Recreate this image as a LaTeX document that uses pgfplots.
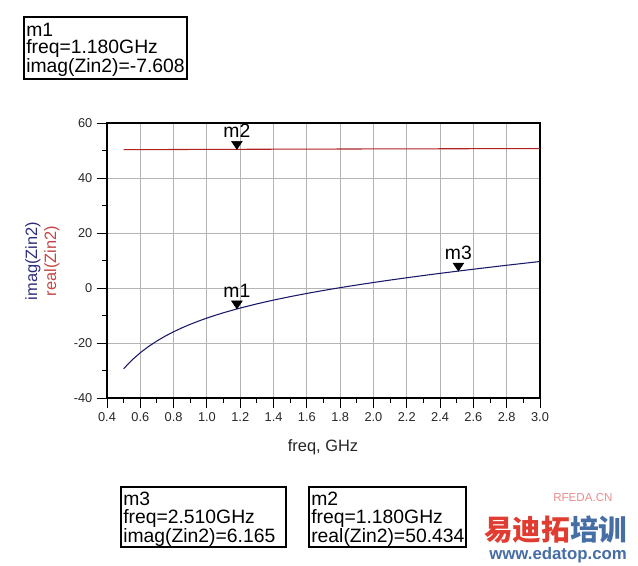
\documentclass[border=0pt]{standalone}
\usepackage{fontspec}
\setmainfont{Liberation Sans}
\newfontfamily\cjk{Noto Sans CJK SC}
\usepackage{pgfplots}
\pgfplotsset{compat=1.18}
\definecolor{imagc}{RGB}{25,25,105}
\definecolor{realc}{RGB}{175,35,35}
\definecolor{imaglab}{RGB}{45,45,125}
\definecolor{reallab}{RGB}{195,70,70}
\definecolor{gridc}{RGB}{180,180,180}
\definecolor{wmred}{RGB}{225,60,50}
\definecolor{wmblue}{RGB}{70,110,165}
\definecolor{wmpink}{RGB}{235,140,140}
\pgfdeclareplotmark{dtri}{\pgfpathmoveto{\pgfpointorigin}\pgfpathlineto{\pgfpoint{-4pt}{6pt}}\pgfpathlineto{\pgfpoint{4pt}{6pt}}\pgfpathclose\pgfusepathqfillstroke}
\newcommand\boxfont{\fontsize{14.5}{13.1}\selectfont}
\newcommand\labfont{\fontsize{12.3}{14}\selectfont}
\begin{document}
\begin{tikzpicture}
\useasboundingbox (0,0) rectangle (478.5pt,-423.75pt);
\begin{axis}[
  at={(80.25pt,-298.5pt)}, anchor=south west,
  scale only axis, width=324.75pt, height=206.25pt,
  xmin=0.4, xmax=3.0, ymin=-40, ymax=60,
  xtick={0.4,0.6,0.8,1.0,1.2,1.4,1.6,1.8,2.0,2.2,2.4,2.6,2.8,3.0},
  ytick={-40,-20,0,20,40,60},
  minor x tick num=1, minor y tick num=1,
  tick align=outside, xtick pos=bottom, ytick pos=left,
  major tick length=7.5pt, minor tick length=3.8pt,
  grid=major,
  grid style={gridc, line width=0.75pt},
  major grid style={gridc, line width=0.75pt},
  axis line style={black, line width=0.8pt},
  every tick/.style={black, line width=0.7pt},
  /pgf/number format/assume math mode=true,
  tick label style={font=\fontsize{9.6}{11}\selectfont, text=black!85},
  xticklabel style={/pgf/number format/.cd, fixed, fixed zerofill, precision=1},
  yticklabel style={/pgf/number format/.cd, fixed, precision=0},
]
\addplot[realc, line width=0.8pt] coordinates {
(0.5,50.30) (0.8,50.36) (1.0,50.40) (1.18,50.434) (1.4,50.47) (1.6,50.50)
(1.75,50.53) (2.0,50.57) (2.2,50.60) (2.5,50.64) (2.8,50.68) (3.0,50.70)};
\addplot[imagc, line width=0.8pt] coordinates {
(0.50,-29.337) (0.55,-26.195) (0.60,-23.534) (0.65,-21.245) (0.70,-19.247)
(0.75,-17.482) (0.80,-15.907) (0.85,-14.487) (0.90,-13.198) (0.95,-12.019)
(1.00,-10.932) (1.05,-9.925) (1.10,-8.987) (1.18,-7.608) (1.20,-7.284)
(1.30,-5.765) (1.40,-4.392) (1.50,-3.136) (1.60,-1.975) (1.70,-0.892)
(1.80,0.127) (1.90,1.090) (2.00,2.007) (2.10,2.884) (2.20,3.726)
(2.30,4.540) (2.40,5.326) (2.50,6.089) (2.51,6.165) (2.60,6.832)
(2.70,7.557) (2.80,8.266) (2.90,8.960) (3.00,9.641)};
\addplot[only marks, mark=dtri, black, nodes near coords={m2},
  every node near coord/.style={anchor=base, yshift=8.5pt, inner sep=0pt, font=\boxfont, text=black}]
  coordinates {(1.18,50.434)};
\addplot[only marks, mark=dtri, black, nodes near coords={m1},
  every node near coord/.style={anchor=base, yshift=8.5pt, inner sep=0pt, font=\boxfont, text=black}]
  coordinates {(1.18,-7.608)};
\addplot[only marks, mark=dtri, black, nodes near coords={m3},
  every node near coord/.style={anchor=base, yshift=8.5pt, inner sep=0pt, font=\boxfont, text=black}]
  coordinates {(2.51,6.165)};
\end{axis}
\begin{scope}[x=0.75pt,y=-0.75pt]
% axis labels
\node[rotate=90, text=imaglab, font=\labfont, inner sep=0pt] at (33,261) {imag(Zin2)};
\node[rotate=90, text=reallab, font=\labfont, inner sep=0pt] at (52,261) {real(Zin2)};
\node[anchor=base, font=\labfont, text=black!85, inner sep=0pt] at (323,451) {freq, GHz};
% marker readout boxes
\draw[black, line width=0.8pt] (24,17) rectangle (187,79);
\node[anchor=north west, align=left, inner sep=0pt, font=\boxfont] at (26,22.5)
  {m1\\freq=1.180GHz\\imag(Zin2)=-7.608};
\draw[black, line width=0.8pt] (121,487) rectangle (286,547);
\node[anchor=north west, align=left, inner sep=0pt, font=\boxfont] at (123,492)
  {m3\\freq=2.510GHz\\imag(Zin2)=6.165};
\draw[black, line width=0.8pt] (309,487) rectangle (466,547);
\node[anchor=north west, align=left, inner sep=0pt, font=\boxfont] at (311,492)
  {m2\\freq=1.180GHz\\real(Zin2)=50.434};
% watermark
\node[anchor=west, inner sep=0pt, font=\fontsize{8.7}{10}\selectfont, text=wmpink] at (553,497) {RFEDA.CN};
\node[anchor=west, inner sep=0pt, font=\cjk\bfseries\fontsize{21.5}{24}\selectfont] at (484,530)
  {\textcolor{wmred}{易迪拓}\textcolor{wmblue}{培训}};
\node[anchor=west, inner sep=0pt, font=\bfseries\fontsize{12.6}{14}\selectfont, text=wmblue] at (489,555) {www.edatop.com};
\end{scope}
\end{tikzpicture}
\end{document}
